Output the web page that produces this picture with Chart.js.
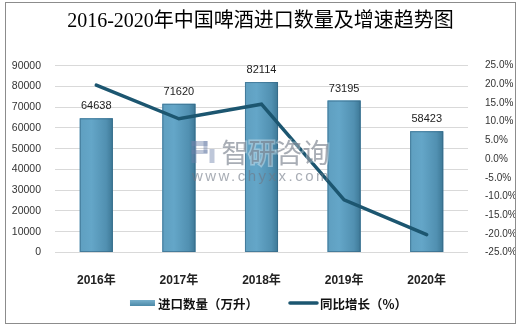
<!DOCTYPE html>
<html>
<head>
<meta charset="utf-8">
<script src="https://cdn.jsdelivr.net/npm/chart.js@4/dist/chart.umd.min.js"></script>
<style>
  html, body { margin: 0; padding: 0; background: #fff; }
  #frame { position: absolute; left: 5px; top: 2px; width: 509px; height: 320px;
           border: 1px solid #8c8c8c; background: #fff; }
  canvas { display: block; }
</style>
</head>
<body>
<div id="frame"><canvas id="c" width="509" height="320"></canvas></div>
<script>
// Beer imports into China, 2016-2020
const years = ['2016年', '2017年', '2018年', '2019年', '2020年'];
const importVolume = [64638, 71620, 82114, 73195, 58423];   // 万升
const yoyGrowth = [19.8, 10.8, 14.7, -10.9, -20.2];         // %
const volumeTicks = [0, 90000, 10000];     // min, max, step
const growthTicks = [-25, 25, 5];          // min, max, step
const seriesNames = ['进口数量（万升）', '同比增长（%）'];
const titleText = '2016-2020年中国啤酒进口数量及增速趋势图';

const CJK = '"Noto Sans CJK SC"';
const TICK_FONT = '"Liberation Sans", Arial, sans-serif';
const LINE_COLOR = '#1c5670';

// Shaded fill for each bar, drawn over the flat bar colour
const barShading = {
  id: 'barShading',
  afterDatasetDraw(chart, args) {
    if (args.index !== 0) return;
    const ctx = chart.ctx;
    ctx.save();
    args.meta.data.forEach(el => {
      const { x, y, base, width } = el.getProps(['x', 'y', 'base', 'width'], true);
      const l = x - width / 2, r = x + width / 2;
      const g = ctx.createLinearGradient(l, 0, r, 0);
      g.addColorStop(0, '#5f9fc0');
      g.addColorStop(0.35, '#64a6c8');
      g.addColorStop(0.8, '#5190b1');
      g.addColorStop(1, '#3d7896');
      ctx.fillStyle = g;
      ctx.fillRect(l, y, width, base - y);
      ctx.strokeStyle = 'rgba(50,100,130,0.6)';
      ctx.lineWidth = 1;
      ctx.strokeRect(l + 0.5, y + 0.5, width - 1, base - y - 1);
    });
    ctx.restore();
  }
};

// Value labels above the bars
const barValues = {
  id: 'barValues',
  afterDatasetsDraw(chart) {
    const ctx = chart.ctx;
    const meta = chart.getDatasetMeta(0);
    ctx.save();
    ctx.font = '11px "Liberation Sans", Arial, sans-serif';
    ctx.fillStyle = '#222';
    ctx.textAlign = 'center';
    ctx.textBaseline = 'middle';
    meta.data.forEach((el, i) => {
      ctx.fillText(String(chart.data.datasets[0].data[i]), el.x, el.y - 12);
    });
    ctx.restore();
  }
};

// Brand watermark across the middle of the plot
const watermark = {
  id: 'watermark',
  afterDatasetsDraw(chart) {
    const ctx = chart.ctx;
    const a = chart.chartArea;
    const cx = (a.left + a.right) / 2;
    ctx.save();
    ctx.textAlign = 'center';
    ctx.textBaseline = 'middle';
    ctx.font = '27px ' + CJK;
    ctx.lineWidth = 3;
    ctx.strokeStyle = 'rgba(255,255,255,0.35)';
    ctx.strokeText('智研咨询', cx + 14, 150);
    ctx.fillStyle = 'rgba(110,118,132,0.6)';
    ctx.fillText('智研咨询', cx + 14, 150);
    // small logo mark
    ctx.fillStyle = 'rgba(110,130,170,0.45)';
    ctx.fillRect(cx - 70, 138, 5, 22);
    ctx.fillRect(cx - 70, 138, 16, 5);
    ctx.fillRect(cx - 70, 147, 16, 4);
    ctx.fillRect(cx - 58, 138, 4, 12);
    ctx.fillRect(cx - 52, 146, 5, 14);
    ctx.font = '15px "Liberation Sans", Arial, sans-serif';
    if ('letterSpacing' in ctx) ctx.letterSpacing = '2.5px';
    ctx.fillStyle = 'rgba(110,118,132,0.6)';
    ctx.fillText('www.chyxx.com', cx, 174);
    ctx.restore();
  }
};

// Legend row under the category labels
const legendRow = {
  id: 'legendRow',
  afterDraw(chart) {
    const ctx = chart.ctx;
    const names = chart.data.datasets.map(d => d.label);
    ctx.save();
    ctx.font = 'bold 12.5px ' + CJK;
    ctx.textBaseline = 'middle';
    ctx.fillStyle = '#111';
    const sw1 = 25, sw2 = 27, gap = 3, between = 32;
    const w1 = ctx.measureText(names[0]).width;
    const w2 = ctx.measureText(names[1]).width;
    const total = sw1 + gap + w1 + between + sw2 + gap + w2;
    const y = 300;
    let x = chart.width / 2 + 8 - total / 2;
    const g = ctx.createLinearGradient(0, y - 3, 0, y + 3);
    g.addColorStop(0, '#79b0cc');
    g.addColorStop(1, '#4c89a8');
    ctx.fillStyle = g;
    ctx.fillRect(x, y - 3, sw1, 6);
    x += sw1 + gap;
    ctx.fillStyle = '#111';
    ctx.fillText(names[0], x, y + 1);
    x += w1 + between;
    ctx.strokeStyle = LINE_COLOR;
    ctx.lineWidth = 3.5;
    ctx.lineCap = 'round';
    ctx.beginPath();
    ctx.moveTo(x, y);
    ctx.lineTo(x + sw2, y);
    ctx.stroke();
    x += sw2 + gap;
    ctx.fillText(names[1], x, y + 1);
    ctx.restore();
  }
};

new Chart(document.getElementById('c'), {
  data: {
    labels: years,
    datasets: [
      {
        type: 'bar',
        label: seriesNames[0],
        data: importVolume,
        yAxisID: 'y',
        backgroundColor: '#5a9bbd',
        borderWidth: 0,
        categoryPercentage: 1,
        barPercentage: 0.4,
        order: 1
      },
      {
        type: 'line',
        label: seriesNames[1],
        data: yoyGrowth,
        yAxisID: 'y1',
        borderColor: LINE_COLOR,
        backgroundColor: LINE_COLOR,
        borderWidth: 3.5,
        borderCapStyle: 'round',
        pointRadius: 0,
        tension: 0,
        order: 0
      }
    ]
  },
  options: {
    responsive: false,
    animation: false,
    devicePixelRatio: 1,
    layout: { padding: { left: 0, right: 0, top: 0, bottom: 30.5 } },
    plugins: {
      legend: { display: false },
      tooltip: { enabled: false },
      title: {
        display: true,
        text: titleText,
        color: '#000',
        font: { family: '"Liberation Serif", ' + CJK, size: 20, weight: 'normal', lineHeight: 1.2 },
        padding: { top: 7, bottom: 31.7 }
      }
    },
    scales: {
      x: {
        offset: true,
        grid: { display: false },
        border: { display: false },
        ticks: {
          color: '#222',
          padding: 13,
          font: { family: '"Liberation Sans", ' + CJK, size: 12, weight: 'bold' }
        },
        afterFit: s => { s.height = 40; }
      },
      y: {
        position: 'left',
        min: volumeTicks[0],
        max: volumeTicks[1],
        grid: { color: '#d9d9d9', lineWidth: 1, drawTicks: false },
        border: { display: false },
        ticks: {
          stepSize: volumeTicks[2],
          color: '#333',
          padding: 14,
          font: { family: TICK_FONT, size: 10.5 },
          callback: v => String(v)
        },
        afterFit: s => { s.width = 49; }
      },
      y1: {
        position: 'right',
        min: growthTicks[0],
        max: growthTicks[1],
        grid: { display: false, drawOnChartArea: false },
        border: { display: false },
        ticks: {
          stepSize: growthTicks[2],
          color: '#333',
          padding: 9,
          font: { family: TICK_FONT, size: 10 },
          callback: v => Number(v).toFixed(1) + '%'
        },
        afterFit: s => { s.width = 47; }
      }
    }
  },
  plugins: [barShading, barValues, watermark, legendRow]
});
</script>
</body>
</html>
